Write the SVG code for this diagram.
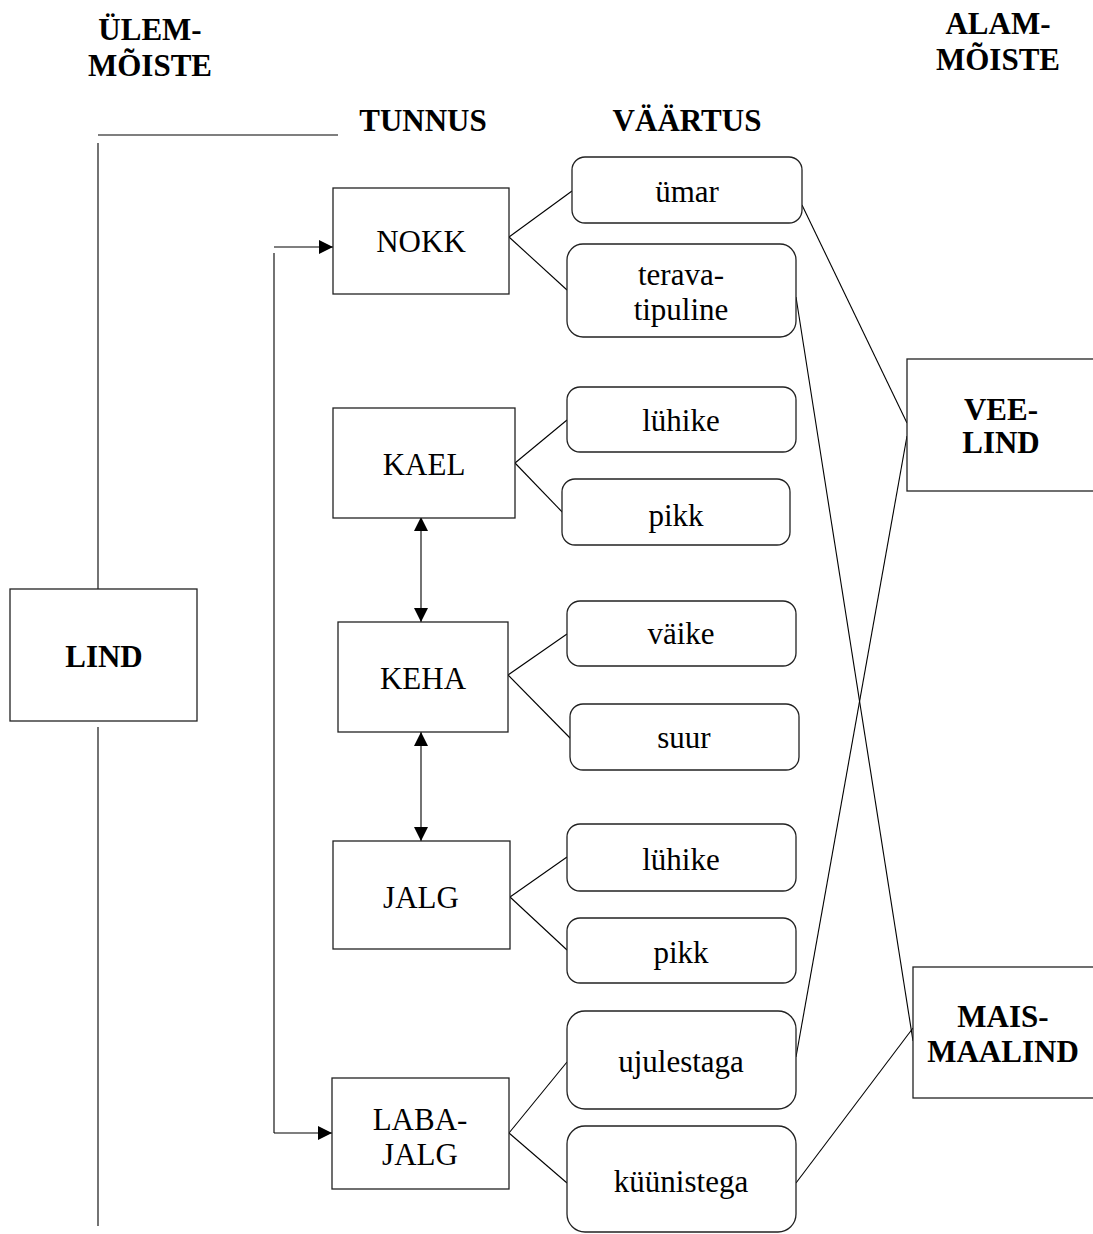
<svg xmlns="http://www.w3.org/2000/svg" width="1093" height="1234" viewBox="0 0 1093 1234">
<defs>
<marker id="ah" viewBox="0 0 10 10" refX="10" refY="5" markerWidth="14" markerHeight="14" markerUnits="userSpaceOnUse" orient="auto-start-reverse"><path d="M0,0 L10,5 L0,10 Z" fill="#000"/></marker>
<style>
.bx{fill:#fff;stroke:#222;stroke-width:1.3}
.rb{fill:#fff;stroke:#222;stroke-width:1.3}
.ln{stroke:#000;stroke-width:1.1;fill:none}
.t{font-family:"Liberation Serif","Times New Roman",serif;font-size:31px;fill:#000;text-anchor:middle}
.b{font-family:"Liberation Serif","Times New Roman",serif;font-size:31px;font-weight:bold;fill:#000;text-anchor:middle}
</style>
</defs>
<rect width="1093" height="1234" fill="#fff"/>
<g id="headers">
<text class="b" x="150" y="40">ÜLEM-</text>
<text class="b" x="150" y="76">MÕISTE</text>
<text class="b" x="998" y="34">ALAM-</text>
<text class="b" x="998" y="70">MÕISTE</text>
<text class="b" x="423" y="131">TUNNUS</text>
<text class="b" x="687" y="131">VÄÄRTUS</text>
</g>
<g id="connectors">
<line class="ln" x1="98" y1="135" x2="338" y2="135"/>
<line class="ln" x1="98" y1="143" x2="98" y2="589"/>
<line class="ln" x1="98" y1="727" x2="98" y2="1226"/>
<line class="ln" x1="274" y1="253" x2="274" y2="1133"/>
<line class="ln" x1="274" y1="247" x2="333" y2="247" marker-end="url(#ah)"/>
<line class="ln" x1="274" y1="1133" x2="332" y2="1133" marker-end="url(#ah)"/>
<line class="ln" x1="421" y1="517" x2="421" y2="622" marker-start="url(#ah)" marker-end="url(#ah)"/>
<line class="ln" x1="421" y1="732" x2="421" y2="841" marker-start="url(#ah)" marker-end="url(#ah)"/>
<line class="ln" x1="509" y1="237" x2="572" y2="191"/>
<line class="ln" x1="509" y1="237" x2="567" y2="290"/>
<line class="ln" x1="515" y1="463" x2="567" y2="420"/>
<line class="ln" x1="515" y1="463" x2="567" y2="517"/>
<line class="ln" x1="508" y1="675" x2="567" y2="634"/>
<line class="ln" x1="508" y1="675" x2="572" y2="740"/>
<line class="ln" x1="510" y1="897" x2="567" y2="857"/>
<line class="ln" x1="510" y1="897" x2="567" y2="950"/>
<line class="ln" x1="509" y1="1133" x2="567" y2="1062"/>
<line class="ln" x1="509" y1="1133" x2="567" y2="1183"/>
<line class="ln" x1="802" y1="205" x2="907" y2="423"/>
<line class="ln" x1="796" y1="297" x2="913" y2="1041"/>
<line class="ln" x1="796" y1="1057" x2="907" y2="436"/>
<line class="ln" x1="796" y1="1183" x2="913" y2="1028"/>
</g>
<g id="lind"><rect class="bx" x="10" y="589" width="187" height="132"/><text class="b" x="104" y="667">LIND</text></g>
<g id="nokk"><rect class="bx" x="333" y="188" width="176" height="106"/><text class="t" x="421" y="252">NOKK</text></g>
<g id="kael"><rect class="bx" x="333" y="408" width="182" height="110"/><text class="t" x="424" y="475">KAEL</text></g>
<g id="keha"><rect class="bx" x="338" y="622" width="170" height="110"/><text class="t" x="423" y="689">KEHA</text></g>
<g id="jalg"><rect class="bx" x="333" y="841" width="177" height="108"/><text class="t" x="421" y="908">JALG</text></g>
<g id="labajalg"><rect class="bx" x="332" y="1078" width="177" height="111"/><text class="t" x="420" y="1130">LABA-</text><text class="t" x="420" y="1165">JALG</text></g>
<g id="umar"><rect class="rb" x="572" y="157" width="230" height="66" rx="13"/><text class="t" x="687" y="202">ümar</text></g>
<g id="teravatipuline"><rect class="rb" x="567" y="244" width="229" height="93" rx="16"/><text class="t" x="681" y="285">terava-</text><text class="t" x="681" y="320">tipuline</text></g>
<g id="luhike1"><rect class="rb" x="567" y="387" width="229" height="65" rx="13"/><text class="t" x="681" y="431">lühike</text></g>
<g id="pikk1"><rect class="rb" x="562" y="479" width="228" height="66" rx="13"/><text class="t" x="676" y="526">pikk</text></g>
<g id="vaike"><rect class="rb" x="567" y="601" width="229" height="65" rx="13"/><text class="t" x="681" y="644">väike</text></g>
<g id="suur"><rect class="rb" x="570" y="704" width="229" height="66" rx="13"/><text class="t" x="684" y="748">suur</text></g>
<g id="luhike2"><rect class="rb" x="567" y="824" width="229" height="67" rx="13"/><text class="t" x="681" y="870">lühike</text></g>
<g id="pikk2"><rect class="rb" x="567" y="918" width="229" height="65" rx="13"/><text class="t" x="681" y="963">pikk</text></g>
<g id="ujulestaga"><rect class="rb" x="567" y="1011" width="229" height="98" rx="18"/><text class="t" x="681" y="1072">ujulestaga</text></g>
<g id="kuunistega"><rect class="rb" x="567" y="1126" width="229" height="106" rx="18"/><text class="t" x="681" y="1192">küünistega</text></g>
<g id="veelind"><rect class="bx" x="907" y="359" width="200" height="132"/><text class="b" x="1001" y="420">VEE-</text><text class="b" x="1001" y="453">LIND</text></g>
<g id="maismaalind"><rect class="bx" x="913" y="967" width="200" height="131"/><text class="b" x="1003" y="1027">MAIS-</text><text class="b" x="1003" y="1062">MAALIND</text></g>
</svg>
